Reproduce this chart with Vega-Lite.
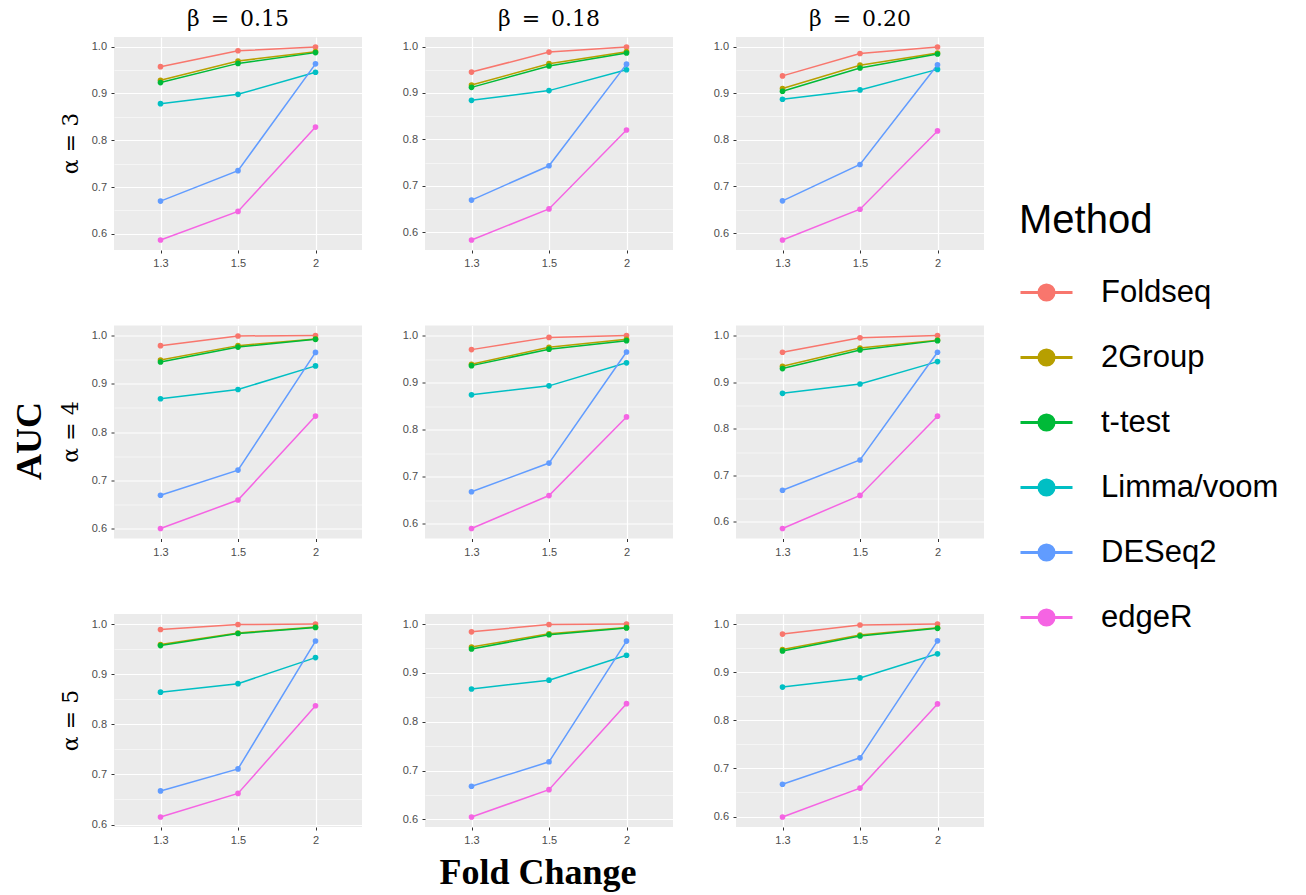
{
  "$schema": "https://vega.github.io/schema/vega-lite/v6.json",
  "background": "white",
  "padding": {"left": 12, "top": 8, "right": 5, "bottom": 2},
  "data": {"values": [
    {"alpha":3,"beta":"0.15","method":"Foldseq","fc":"1.3","auc":0.957},
    {"alpha":3,"beta":"0.15","method":"Foldseq","fc":"1.5","auc":0.991},
    {"alpha":3,"beta":"0.15","method":"Foldseq","fc":"2","auc":0.999},
    {"alpha":3,"beta":"0.15","method":"2Group","fc":"1.3","auc":0.928},
    {"alpha":3,"beta":"0.15","method":"2Group","fc":"1.5","auc":0.969},
    {"alpha":3,"beta":"0.15","method":"2Group","fc":"2","auc":0.989},
    {"alpha":3,"beta":"0.15","method":"t-test","fc":"1.3","auc":0.923},
    {"alpha":3,"beta":"0.15","method":"t-test","fc":"1.5","auc":0.964},
    {"alpha":3,"beta":"0.15","method":"t-test","fc":"2","auc":0.987},
    {"alpha":3,"beta":"0.15","method":"Limma/voom","fc":"1.3","auc":0.878},
    {"alpha":3,"beta":"0.15","method":"Limma/voom","fc":"1.5","auc":0.898},
    {"alpha":3,"beta":"0.15","method":"Limma/voom","fc":"2","auc":0.945},
    {"alpha":3,"beta":"0.15","method":"DESeq2","fc":"1.3","auc":0.670},
    {"alpha":3,"beta":"0.15","method":"DESeq2","fc":"1.5","auc":0.735},
    {"alpha":3,"beta":"0.15","method":"DESeq2","fc":"2","auc":0.963},
    {"alpha":3,"beta":"0.15","method":"edgeR","fc":"1.3","auc":0.587},
    {"alpha":3,"beta":"0.15","method":"edgeR","fc":"1.5","auc":0.648},
    {"alpha":3,"beta":"0.15","method":"edgeR","fc":"2","auc":0.828},

    {"alpha":3,"beta":"0.18","method":"Foldseq","fc":"1.3","auc":0.945},
    {"alpha":3,"beta":"0.18","method":"Foldseq","fc":"1.5","auc":0.988},
    {"alpha":3,"beta":"0.18","method":"Foldseq","fc":"2","auc":0.999},
    {"alpha":3,"beta":"0.18","method":"2Group","fc":"1.3","auc":0.917},
    {"alpha":3,"beta":"0.18","method":"2Group","fc":"1.5","auc":0.963},
    {"alpha":3,"beta":"0.18","method":"2Group","fc":"2","auc":0.989},
    {"alpha":3,"beta":"0.18","method":"t-test","fc":"1.3","auc":0.912},
    {"alpha":3,"beta":"0.18","method":"t-test","fc":"1.5","auc":0.958},
    {"alpha":3,"beta":"0.18","method":"t-test","fc":"2","auc":0.986},
    {"alpha":3,"beta":"0.18","method":"Limma/voom","fc":"1.3","auc":0.884},
    {"alpha":3,"beta":"0.18","method":"Limma/voom","fc":"1.5","auc":0.905},
    {"alpha":3,"beta":"0.18","method":"Limma/voom","fc":"2","auc":0.950},
    {"alpha":3,"beta":"0.18","method":"DESeq2","fc":"1.3","auc":0.669},
    {"alpha":3,"beta":"0.18","method":"DESeq2","fc":"1.5","auc":0.743},
    {"alpha":3,"beta":"0.18","method":"DESeq2","fc":"2","auc":0.962},
    {"alpha":3,"beta":"0.18","method":"edgeR","fc":"1.3","auc":0.583},
    {"alpha":3,"beta":"0.18","method":"edgeR","fc":"1.5","auc":0.650},
    {"alpha":3,"beta":"0.18","method":"edgeR","fc":"2","auc":0.820},

    {"alpha":3,"beta":"0.20","method":"Foldseq","fc":"1.3","auc":0.937},
    {"alpha":3,"beta":"0.20","method":"Foldseq","fc":"1.5","auc":0.985},
    {"alpha":3,"beta":"0.20","method":"Foldseq","fc":"2","auc":0.999},
    {"alpha":3,"beta":"0.20","method":"2Group","fc":"1.3","auc":0.910},
    {"alpha":3,"beta":"0.20","method":"2Group","fc":"1.5","auc":0.960},
    {"alpha":3,"beta":"0.20","method":"2Group","fc":"2","auc":0.986},
    {"alpha":3,"beta":"0.20","method":"t-test","fc":"1.3","auc":0.904},
    {"alpha":3,"beta":"0.20","method":"t-test","fc":"1.5","auc":0.954},
    {"alpha":3,"beta":"0.20","method":"t-test","fc":"2","auc":0.984},
    {"alpha":3,"beta":"0.20","method":"Limma/voom","fc":"1.3","auc":0.887},
    {"alpha":3,"beta":"0.20","method":"Limma/voom","fc":"1.5","auc":0.907},
    {"alpha":3,"beta":"0.20","method":"Limma/voom","fc":"2","auc":0.951},
    {"alpha":3,"beta":"0.20","method":"DESeq2","fc":"1.3","auc":0.669},
    {"alpha":3,"beta":"0.20","method":"DESeq2","fc":"1.5","auc":0.747},
    {"alpha":3,"beta":"0.20","method":"DESeq2","fc":"2","auc":0.961},
    {"alpha":3,"beta":"0.20","method":"edgeR","fc":"1.3","auc":0.585},
    {"alpha":3,"beta":"0.20","method":"edgeR","fc":"1.5","auc":0.651},
    {"alpha":3,"beta":"0.20","method":"edgeR","fc":"2","auc":0.819},

    {"alpha":4,"beta":"0.15","method":"Foldseq","fc":"1.3","auc":0.979},
    {"alpha":4,"beta":"0.15","method":"Foldseq","fc":"1.5","auc":0.999},
    {"alpha":4,"beta":"0.15","method":"Foldseq","fc":"2","auc":1.000},
    {"alpha":4,"beta":"0.15","method":"2Group","fc":"1.3","auc":0.949},
    {"alpha":4,"beta":"0.15","method":"2Group","fc":"1.5","auc":0.979},
    {"alpha":4,"beta":"0.15","method":"2Group","fc":"2","auc":0.993},
    {"alpha":4,"beta":"0.15","method":"t-test","fc":"1.3","auc":0.945},
    {"alpha":4,"beta":"0.15","method":"t-test","fc":"1.5","auc":0.976},
    {"alpha":4,"beta":"0.15","method":"t-test","fc":"2","auc":0.992},
    {"alpha":4,"beta":"0.15","method":"Limma/voom","fc":"1.3","auc":0.869},
    {"alpha":4,"beta":"0.15","method":"Limma/voom","fc":"1.5","auc":0.888},
    {"alpha":4,"beta":"0.15","method":"Limma/voom","fc":"2","auc":0.937},
    {"alpha":4,"beta":"0.15","method":"DESeq2","fc":"1.3","auc":0.669},
    {"alpha":4,"beta":"0.15","method":"DESeq2","fc":"1.5","auc":0.721},
    {"alpha":4,"beta":"0.15","method":"DESeq2","fc":"2","auc":0.965},
    {"alpha":4,"beta":"0.15","method":"edgeR","fc":"1.3","auc":0.600},
    {"alpha":4,"beta":"0.15","method":"edgeR","fc":"1.5","auc":0.659},
    {"alpha":4,"beta":"0.15","method":"edgeR","fc":"2","auc":0.833},

    {"alpha":4,"beta":"0.18","method":"Foldseq","fc":"1.3","auc":0.970},
    {"alpha":4,"beta":"0.18","method":"Foldseq","fc":"1.5","auc":0.996},
    {"alpha":4,"beta":"0.18","method":"Foldseq","fc":"2","auc":1.000},
    {"alpha":4,"beta":"0.18","method":"2Group","fc":"1.3","auc":0.939},
    {"alpha":4,"beta":"0.18","method":"2Group","fc":"1.5","auc":0.975},
    {"alpha":4,"beta":"0.18","method":"2Group","fc":"2","auc":0.992},
    {"alpha":4,"beta":"0.18","method":"t-test","fc":"1.3","auc":0.936},
    {"alpha":4,"beta":"0.18","method":"t-test","fc":"1.5","auc":0.971},
    {"alpha":4,"beta":"0.18","method":"t-test","fc":"2","auc":0.989},
    {"alpha":4,"beta":"0.18","method":"Limma/voom","fc":"1.3","auc":0.874},
    {"alpha":4,"beta":"0.18","method":"Limma/voom","fc":"1.5","auc":0.893},
    {"alpha":4,"beta":"0.18","method":"Limma/voom","fc":"2","auc":0.942},
    {"alpha":4,"beta":"0.18","method":"DESeq2","fc":"1.3","auc":0.668},
    {"alpha":4,"beta":"0.18","method":"DESeq2","fc":"1.5","auc":0.729},
    {"alpha":4,"beta":"0.18","method":"DESeq2","fc":"2","auc":0.965},
    {"alpha":4,"beta":"0.18","method":"edgeR","fc":"1.3","auc":0.590},
    {"alpha":4,"beta":"0.18","method":"edgeR","fc":"1.5","auc":0.660},
    {"alpha":4,"beta":"0.18","method":"edgeR","fc":"2","auc":0.827},

    {"alpha":4,"beta":"0.20","method":"Foldseq","fc":"1.3","auc":0.964},
    {"alpha":4,"beta":"0.20","method":"Foldseq","fc":"1.5","auc":0.995},
    {"alpha":4,"beta":"0.20","method":"Foldseq","fc":"2","auc":1.000},
    {"alpha":4,"beta":"0.20","method":"2Group","fc":"1.3","auc":0.934},
    {"alpha":4,"beta":"0.20","method":"2Group","fc":"1.5","auc":0.973},
    {"alpha":4,"beta":"0.20","method":"2Group","fc":"2","auc":0.990},
    {"alpha":4,"beta":"0.20","method":"t-test","fc":"1.3","auc":0.929},
    {"alpha":4,"beta":"0.20","method":"t-test","fc":"1.5","auc":0.969},
    {"alpha":4,"beta":"0.20","method":"t-test","fc":"2","auc":0.989},
    {"alpha":4,"beta":"0.20","method":"Limma/voom","fc":"1.3","auc":0.876},
    {"alpha":4,"beta":"0.20","method":"Limma/voom","fc":"1.5","auc":0.896},
    {"alpha":4,"beta":"0.20","method":"Limma/voom","fc":"2","auc":0.944},
    {"alpha":4,"beta":"0.20","method":"DESeq2","fc":"1.3","auc":0.668},
    {"alpha":4,"beta":"0.20","method":"DESeq2","fc":"1.5","auc":0.733},
    {"alpha":4,"beta":"0.20","method":"DESeq2","fc":"2","auc":0.964},
    {"alpha":4,"beta":"0.20","method":"edgeR","fc":"1.3","auc":0.586},
    {"alpha":4,"beta":"0.20","method":"edgeR","fc":"1.5","auc":0.657},
    {"alpha":4,"beta":"0.20","method":"edgeR","fc":"2","auc":0.827},

    {"alpha":5,"beta":"0.15","method":"Foldseq","fc":"1.3","auc":0.989},
    {"alpha":5,"beta":"0.15","method":"Foldseq","fc":"1.5","auc":0.999},
    {"alpha":5,"beta":"0.15","method":"Foldseq","fc":"2","auc":1.000},
    {"alpha":5,"beta":"0.15","method":"2Group","fc":"1.3","auc":0.959},
    {"alpha":5,"beta":"0.15","method":"2Group","fc":"1.5","auc":0.982},
    {"alpha":5,"beta":"0.15","method":"2Group","fc":"2","auc":0.994},
    {"alpha":5,"beta":"0.15","method":"t-test","fc":"1.3","auc":0.957},
    {"alpha":5,"beta":"0.15","method":"t-test","fc":"1.5","auc":0.981},
    {"alpha":5,"beta":"0.15","method":"t-test","fc":"2","auc":0.993},
    {"alpha":5,"beta":"0.15","method":"Limma/voom","fc":"1.3","auc":0.864},
    {"alpha":5,"beta":"0.15","method":"Limma/voom","fc":"1.5","auc":0.881},
    {"alpha":5,"beta":"0.15","method":"Limma/voom","fc":"2","auc":0.933},
    {"alpha":5,"beta":"0.15","method":"DESeq2","fc":"1.3","auc":0.667},
    {"alpha":5,"beta":"0.15","method":"DESeq2","fc":"1.5","auc":0.711},
    {"alpha":5,"beta":"0.15","method":"DESeq2","fc":"2","auc":0.966},
    {"alpha":5,"beta":"0.15","method":"edgeR","fc":"1.3","auc":0.615},
    {"alpha":5,"beta":"0.15","method":"edgeR","fc":"1.5","auc":0.662},
    {"alpha":5,"beta":"0.15","method":"edgeR","fc":"2","auc":0.837},

    {"alpha":5,"beta":"0.18","method":"Foldseq","fc":"1.3","auc":0.984},
    {"alpha":5,"beta":"0.18","method":"Foldseq","fc":"1.5","auc":0.999},
    {"alpha":5,"beta":"0.18","method":"Foldseq","fc":"2","auc":1.000},
    {"alpha":5,"beta":"0.18","method":"2Group","fc":"1.3","auc":0.953},
    {"alpha":5,"beta":"0.18","method":"2Group","fc":"1.5","auc":0.980},
    {"alpha":5,"beta":"0.18","method":"2Group","fc":"2","auc":0.993},
    {"alpha":5,"beta":"0.18","method":"t-test","fc":"1.3","auc":0.949},
    {"alpha":5,"beta":"0.18","method":"t-test","fc":"1.5","auc":0.978},
    {"alpha":5,"beta":"0.18","method":"t-test","fc":"2","auc":0.992},
    {"alpha":5,"beta":"0.18","method":"Limma/voom","fc":"1.3","auc":0.867},
    {"alpha":5,"beta":"0.18","method":"Limma/voom","fc":"1.5","auc":0.885},
    {"alpha":5,"beta":"0.18","method":"Limma/voom","fc":"2","auc":0.936},
    {"alpha":5,"beta":"0.18","method":"DESeq2","fc":"1.3","auc":0.668},
    {"alpha":5,"beta":"0.18","method":"DESeq2","fc":"1.5","auc":0.718},
    {"alpha":5,"beta":"0.18","method":"DESeq2","fc":"2","auc":0.965},
    {"alpha":5,"beta":"0.18","method":"edgeR","fc":"1.3","auc":0.605},
    {"alpha":5,"beta":"0.18","method":"edgeR","fc":"1.5","auc":0.661},
    {"alpha":5,"beta":"0.18","method":"edgeR","fc":"2","auc":0.837},

    {"alpha":5,"beta":"0.20","method":"Foldseq","fc":"1.3","auc":0.979},
    {"alpha":5,"beta":"0.20","method":"Foldseq","fc":"1.5","auc":0.998},
    {"alpha":5,"beta":"0.20","method":"Foldseq","fc":"2","auc":1.000},
    {"alpha":5,"beta":"0.20","method":"2Group","fc":"1.3","auc":0.947},
    {"alpha":5,"beta":"0.20","method":"2Group","fc":"1.5","auc":0.977},
    {"alpha":5,"beta":"0.20","method":"2Group","fc":"2","auc":0.992},
    {"alpha":5,"beta":"0.20","method":"t-test","fc":"1.3","auc":0.944},
    {"alpha":5,"beta":"0.20","method":"t-test","fc":"1.5","auc":0.975},
    {"alpha":5,"beta":"0.20","method":"t-test","fc":"2","auc":0.991},
    {"alpha":5,"beta":"0.20","method":"Limma/voom","fc":"1.3","auc":0.869},
    {"alpha":5,"beta":"0.20","method":"Limma/voom","fc":"1.5","auc":0.888},
    {"alpha":5,"beta":"0.20","method":"Limma/voom","fc":"2","auc":0.938},
    {"alpha":5,"beta":"0.20","method":"DESeq2","fc":"1.3","auc":0.667},
    {"alpha":5,"beta":"0.20","method":"DESeq2","fc":"1.5","auc":0.722},
    {"alpha":5,"beta":"0.20","method":"DESeq2","fc":"2","auc":0.965},
    {"alpha":5,"beta":"0.20","method":"edgeR","fc":"1.3","auc":0.599},
    {"alpha":5,"beta":"0.20","method":"edgeR","fc":"1.5","auc":0.659},
    {"alpha":5,"beta":"0.20","method":"edgeR","fc":"2","auc":0.834}
  ]},
  "facet": {
    "row": {"field": "alpha", "type": "ordinal", "header": {"title": "AUC", "labelExpr": "'α = ' + datum.value", "labelAngle": -90, "titleAngle": -90, "labelPadding": -2, "titlePadding": -36}},
    "column": {"field": "beta", "type": "ordinal", "header": {"title": "Fold Change", "titleOrient": "bottom", "labelOrient": "top", "labelExpr": "'β\u2002=\u2002' + datum.value", "labelPadding": 6, "titlePadding": 0}}
  },
  "spacing": {"row": 56.5, "column": 40},
  "resolve": {"scale": {"y": "independent", "x": "independent"}, "axis": {"x": "independent", "y": "independent"}},
  "spec": {
    "width": 248,
    "height": 213,
    "layer": [
      {
        "mark": {"type": "line", "strokeWidth": 1.5},
        "encoding": {
          "x": {"field": "fc", "type": "ordinal", "sort": ["1.3", "1.5", "2"], "scale": {"type": "point", "padding": 0.6}, "axis": {"title": null, "labelAngle": 0, "grid": true}},
          "y": {"field": "auc", "type": "quantitative", "scale": {"zero": false, "nice": false, "padding": 10}, "axis": {"title": null, "values": [0.6, 0.7, 0.8, 0.9, 1.0], "format": ".1f", "grid": true}},
          "color": {"field": "method", "type": "nominal", "scale": {"domain": ["Foldseq", "2Group", "t-test", "Limma/voom", "DESeq2", "edgeR"], "range": ["#F8766D", "#B79F00", "#00BA38", "#00BFC4", "#619CFF", "#F564E3"]}, "legend": {"title": "Method"}}
        }
      },
      {
        "mark": {"type": "point", "filled": true, "size": 32, "opacity": 1},
        "encoding": {
          "x": {"field": "fc", "type": "ordinal", "sort": ["1.3", "1.5", "2"]},
          "y": {"field": "auc", "type": "quantitative", "axis": {"title": null, "orient": "right", "values": [0.65, 0.75, 0.85, 0.95], "grid": true, "gridWidth": 0.5, "labels": false, "ticks": false, "domain": false}},
          "color": {"field": "method", "type": "nominal"}
        }
      }
    ],
    "resolve": {"axis": {"y": "independent"}}
  },
  "config": {
    "font": "Liberation Sans",
    "view": {"fill": "#EBEBEB", "stroke": null},
    "axis": {"labelFont": "Liberation Sans", "labelFontSize": 11, "labelColor": "#4D4D4D", "tickColor": "#333333", "tickSize": 3, "tickWidth": 1, "domain": false, "gridColor": "#FFFFFF", "gridWidth": 1.2, "labelPadding": 4.5},
    "header": {"labelFont": "DejaVu Serif", "labelFontSize": 22, "labelColor": "black", "titleFont": "Liberation Serif", "titleFontWeight": "bold", "titleFontSize": 36, "titleColor": "black"},
    "legend": {
      "orient": "none", "legendX": 905, "legendY": 164,
      "titleFont": "Liberation Sans", "titleFontSize": 40, "titleFontWeight": "normal", "titleColor": "black", "titlePadding": 24,
      "labelFont": "Liberation Sans", "labelFontSize": 31, "labelColor": "black", "labelOffset": 27, "labelLimit": 400,
      "symbolType": "M-1,0H1M0.29,0A0.29,0.29 0 1,1 -0.29,0A0.29,0.29 0 1,1 0.29,0Z",
      "symbolSize": 2704, "symbolStrokeWidth": 3, "rowPadding": 22
    }
  }
}
